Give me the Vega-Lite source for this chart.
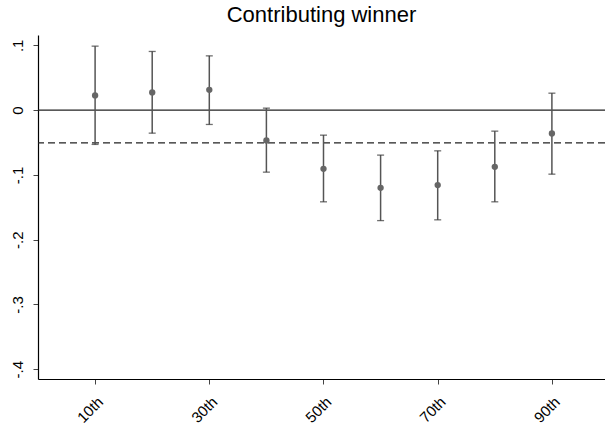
{
  "$schema": "https://vega.github.io/schema/vega-lite/v6.json",
  "autosize": "none",
  "width": 567,
  "height": 344,
  "padding": {"left": 38, "top": 35, "right": 0, "bottom": 49},
  "background": "white",
  "config": {
    "font": "Liberation Sans",
    "view": {"stroke": null},
    "axis": {"grid": false, "domainColor": "#000000", "domainWidth": 1.2, "tickColor": "#444444", "tickSize": 5, "labelColor": "#000000", "labelFont": "Liberation Sans", "labelFontSize": 15, "titleFont": "Liberation Sans"}
  },
  "title": {"text": "Contributing winner", "fontSize": 22, "font": "Liberation Sans", "fontWeight": "normal", "color": "#000000", "anchor": "middle", "offset": 8},
  "data": {
    "values": [
      {"pct": 10, "est": 0.0227, "lo": -0.0529, "hi": 0.0988},
      {"pct": 20, "est": 0.0273, "lo": -0.0355, "hi": 0.0906},
      {"pct": 30, "est": 0.0313, "lo": -0.0221, "hi": 0.0838},
      {"pct": 40, "est": -0.0468, "lo": -0.0957, "hi": 0.0031},
      {"pct": 50, "est": -0.0906, "lo": -0.1415, "hi": -0.0386},
      {"pct": 60, "est": -0.1199, "lo": -0.1705, "hi": -0.0694},
      {"pct": 70, "est": -0.1157, "lo": -0.1693, "hi": -0.0628},
      {"pct": 80, "est": -0.0875, "lo": -0.1415, "hi": -0.0324},
      {"pct": 90, "est": -0.0360, "lo": -0.0988, "hi": 0.0262}
    ]
  },
  "encoding": {
    "x": {"field": "pct", "type": "quantitative", "scale": {"domain": [0, 99.3], "nice": false, "zero": false},
      "axis": {"title": null, "values": [10, 30, 50, 70, 90], "labelExpr": "datum.value + 'th'", "labelAngle": -45, "labelAlign": "right", "labelBaseline": "top", "labelPadding": 10, "labelFlush": false}}
  },
  "layer": [
    {
      "data": {"values": [{"y": 0, "kind": "zero"}]},
      "mark": {"type": "rule", "color": "#222222", "strokeWidth": 1.1},
      "encoding": {"y": {"field": "y", "type": "quantitative"}, "x": null}
    },
    {
      "data": {"values": [{"y": -0.0505, "kind": "mean"}]},
      "mark": {"type": "rule", "color": "#222222", "strokeWidth": 1.1, "strokeDash": [7, 4]},
      "encoding": {"y": {"field": "y", "type": "quantitative"}, "x": null}
    },
    {
      "mark": {"type": "rule", "color": "#555555", "strokeWidth": 1.5},
      "encoding": {
        "y": {"field": "lo", "type": "quantitative", "scale": {"domain": [-0.415, 0.116], "nice": false, "zero": false},
          "axis": {"title": null, "values": [-0.4, -0.3, -0.2, -0.1, 0, 0.1], "labelExpr": "datum.value == 0 ? '0' : (datum.value < 0 ? '-' : '') + replace(format(abs(datum.value), '.1f'), '0.', '.')", "labelAngle": -90, "labelAlign": "center", "labelBaseline": "bottom", "labelPadding": 8}},
        "y2": {"field": "hi"}
      }
    },
    {
      "mark": {"type": "tick", "color": "#333333", "orient": "horizontal", "size": 7, "thickness": 1.3},
      "encoding": {"y": {"field": "lo", "type": "quantitative"}}
    },
    {
      "mark": {"type": "tick", "color": "#333333", "orient": "horizontal", "size": 7, "thickness": 1.3},
      "encoding": {"y": {"field": "hi", "type": "quantitative"}}
    },
    {
      "mark": {"type": "point", "filled": true, "color": "#666666", "opacity": 1, "size": 40},
      "encoding": {"y": {"field": "est", "type": "quantitative"}}
    }
  ]
}
